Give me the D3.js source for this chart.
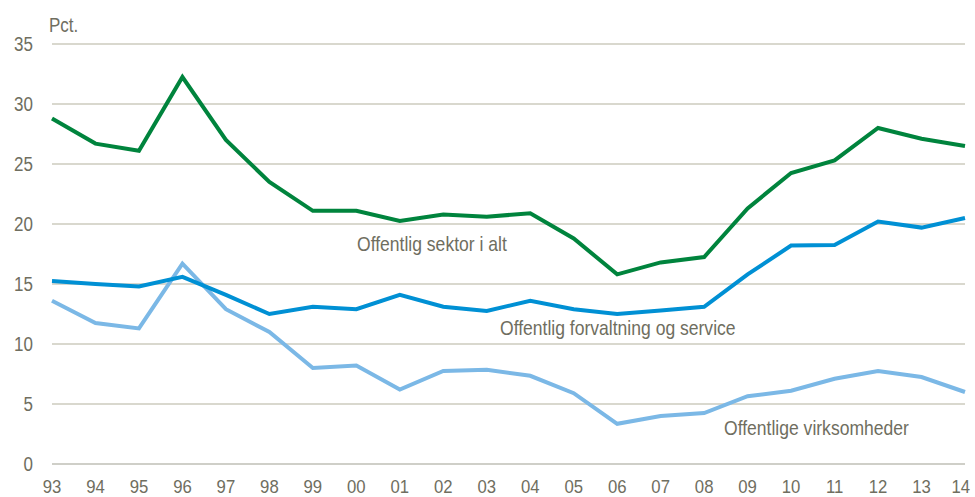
<!DOCTYPE html>
<html><head><meta charset="utf-8">
<script src="https://cdn.jsdelivr.net/npm/d3@7"></script>
<style>body{margin:0;background:#fff}svg{display:block}text{font-family:"Liberation Sans",Arial,sans-serif;fill:#6f6e60}</style>
</head><body><svg id="c" width="975" height="497"></svg>
<script>
const years = ["93","94","95","96","97","98","99","00","01","02","03","04","05","06","07","08","09","10","11","12","13","14"];
const sektorIAlt = [28.8,26.7,26.1,32.25,27.0,23.5,21.1,21.1,20.25,20.8,20.6,20.9,18.8,15.8,16.8,17.25,21.3,24.25,25.3,28.0,27.1,26.5];
const forvaltning = [15.25,15.0,14.8,15.6,14.1,12.5,13.1,12.9,14.1,13.1,12.75,13.6,12.9,12.5,12.8,13.1,15.8,18.2,18.25,20.2,19.7,20.5];
const virksomheder = [13.6,11.75,11.3,16.7,12.9,11.0,8.0,8.2,6.2,7.75,7.85,7.35,5.9,3.35,4.0,4.25,5.65,6.1,7.1,7.75,7.25,6.0];
const yTicks = [0,5,10,15,20,25,30,35];
const seriesNames = ["Offentlig sektor i alt","Offentlig forvaltning og service","Offentlige virksomheder"];
const unitLabel = "Pct.";

const svg = d3.select("#c");
const W = 975;
const x = d3.scalePoint().domain(years).range([52,965]);
const y = d3.scaleLinear().domain([0,35]).range([464,44]);
const SQ = 0.85;
function squeeze(sel, f){
  sel.each(function(){
    const w = this.getComputedTextLength();
    d3.select(this).attr("textLength", w*(f||SQ)).attr("lengthAdjust","spacingAndGlyphs");
  });
  return sel;
}

// grid
svg.append("g").selectAll("line").data(yTicks).join("line")
  .attr("x1",52).attr("x2",965).attr("y1",d=>y(d)).attr("y2",d=>y(d))
  .attr("stroke",d=>d===0?"#cfcfc8":"#b3b19e").attr("stroke-width",d=>d===0?2:1.2);

// y labels
squeeze(svg.append("g").selectAll("text").data(yTicks).join("text")
  .attr("x",33).attr("y",d=>y(d)+7).attr("text-anchor","end").attr("font-size",20).text(d=>d));
squeeze(svg.append("text").attr("x",49).attr("y",32).attr("font-size",20).text(unitLabel));

// x labels
const xl = squeeze(svg.append("g").selectAll("text").data(years).join("text")
  .attr("x",d=>x(d)).attr("y",493).attr("text-anchor","middle").attr("font-size",19).text(d=>d), 0.88);
xl.each(function(d){
  const half = +this.getAttribute("textLength")/2;
  if (x(d)+half > W-5) d3.select(this).attr("x", W-5-half);
});

const line = d3.line().x((d,i)=>x(years[i])).y(d=>y(d));
const series = [[sektorIAlt,"#00843d"],[forvaltning,"#0090d4"],[virksomheder,"#7bb8e6"]];
series.slice().reverse().forEach(([v,c])=>{
  svg.append("path").datum(v).attr("d",line).attr("fill","none").attr("stroke",c).attr("stroke-width",4).attr("stroke-linejoin","miter");
});

// labels
const labelPos = [[357,251],[500,335],[724,435]];
seriesNames.forEach((n,i)=>{
  squeeze(svg.append("text").attr("x",labelPos[i][0]).attr("y",labelPos[i][1]).attr("font-size",21).text(n), 0.835);
});
</script></body></html>
